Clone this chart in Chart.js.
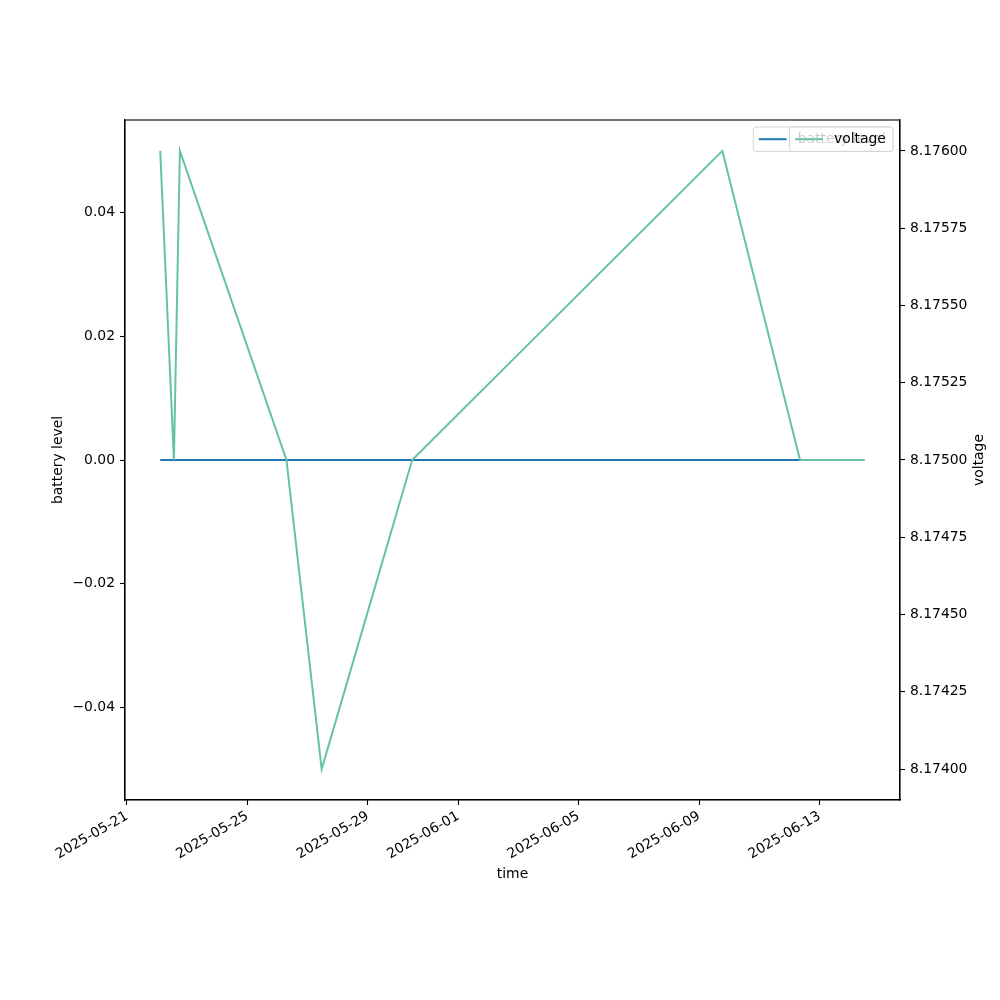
<!DOCTYPE html>
<html>
<head>
<meta charset="utf-8">
<script src="https://cdn.jsdelivr.net/npm/chart.js@4/dist/chart.umd.min.js"></script>
<style>
  html, body { margin: 0; padding: 0; background: #fff; }
</style>
</head>
<body>
<canvas id="chart" width="1000" height="1000"></canvas>
<script>
// data (UTC)
const times = ['2025-05-22T02:30', '2025-05-22T13:24', '2025-05-22T18:10', '2025-05-26T07:05',
               '2025-05-27T11:10', '2025-05-30T11:17', '2025-06-09T18:29', '2025-06-12T08:24',
               '2025-06-14T12:00'];
const voltage = [8.176, 8.175, 8.176, 8.175, 8.174, 8.175, 8.176, 8.175, 8.175];
const batteryTimes = times.slice(0, 8);
const batteryLevel = [0, 0, 0, 0, 0, 0, 0, 0];

const dateTicks = ['2025-05-21', '2025-05-25', '2025-05-29', '2025-06-01', '2025-06-05', '2025-06-09', '2025-06-13'];
const leftTicks = [-0.04, -0.02, 0, 0.02, 0.04];
const rightTicks = [8.174, 8.17425, 8.1745, 8.17475, 8.175, 8.17525, 8.1755, 8.17575, 8.176];

const toMs = s => Date.parse(s.length > 10 ? s + ':00Z' : s + 'T00:00:00Z');
const FONT = 13.9;

Chart.defaults.font.family = '"DejaVu Sans"';
Chart.defaults.font.size = FONT;
Chart.defaults.color = '#000';

// x limits with matplotlib style 5% margin
const tAll = times.map(toMs);
const tMin = Math.min(...tAll), tMax = Math.max(...tAll);
const xPad = (tMax - tMin) * 0.05;

const minus = s => s.replace('-', '\u2212');

const axisGrid = { drawOnChartArea: false, drawTicks: true, tickLength: 5, color: '#000', tickWidth: 1.1 };
const axisBorder = { display: true, color: '#000', width: 1.1 };

function drawLegend(ctx, right, top, ds) {
  ctx.font = FONT + 'px "DejaVu Sans"';
  const pad = 5.6, handle = 27.8, gap = 11.1, h = 24.4;
  const tw = ctx.measureText(ds.label).width;
  const w = pad + handle + gap + tw + pad + 1.5;
  const left = right - w;
  ctx.beginPath();
  ctx.roundRect(left, top, w, h, 3);
  ctx.fillStyle = 'rgba(255,255,255,0.8)';
  ctx.fill();
  ctx.strokeStyle = 'rgba(204,204,204,0.8)';
  ctx.lineWidth = 1;
  ctx.stroke();
  const cy = top + h / 2;
  ctx.beginPath();
  ctx.moveTo(left + pad, cy);
  ctx.lineTo(left + pad + handle, cy);
  ctx.strokeStyle = ds.borderColor;
  ctx.lineWidth = 2;
  ctx.stroke();
  ctx.fillStyle = '#000';
  ctx.textAlign = 'left';
  ctx.textBaseline = 'middle';
  ctx.fillText(ds.label, left + pad + handle + gap, cy);
}

const extras = {
  id: 'extras',
  afterDraw(chart) {
    const { ctx, chartArea: a } = chart;
    ctx.save();
    ctx.strokeStyle = '#000';
    ctx.lineWidth = 1.1;
    ctx.strokeRect(a.left, a.top, a.right - a.left, a.bottom - a.top);

    // right axis title, reading bottom to top
    const rs = chart.scales.yRight;
    ctx.save();
    ctx.font = FONT + 'px "DejaVu Sans"';
    ctx.fillStyle = '#000';
    ctx.translate(rs.right - 21, (a.top + a.bottom) / 2);
    ctx.rotate(-Math.PI / 2);
    ctx.textAlign = 'center';
    ctx.textBaseline = 'middle';
    ctx.fillText(rs.options.title.text, 0, 0);
    ctx.restore();

    // two legends, voltage drawn over battery level
    const ds = chart.data.datasets;
    drawLegend(ctx, a.right - 7, a.top + 7, ds[1]);
    drawLegend(ctx, a.right - 7, a.top + 7, ds[0]);
    ctx.restore();
  }
};

new Chart(document.getElementById('chart'), {
  type: 'line',
  data: {
    datasets: [
      {
        label: 'voltage',
        data: times.map((t, i) => ({ x: toMs(t), y: voltage[i] })),
        borderColor: '#66c2a5',
        borderWidth: 2,
        pointRadius: 0,
        yAxisID: 'yRight'
      },
      {
        label: 'battery level',
        data: batteryTimes.map((t, i) => ({ x: toMs(t), y: batteryLevel[i] })),
        borderColor: '#1f77b4',
        borderWidth: 2,
        pointRadius: 0,
        yAxisID: 'yLeft'
      }
    ]
  },
  options: {
    responsive: false,
    animation: false,
    devicePixelRatio: 1,
    layout: { padding: { left: 50, right: 0, top: 120, bottom: 117 } },
    plugins: { legend: { display: false }, tooltip: { enabled: false } },
    scales: {
      x: {
        type: 'linear',
        min: tMin - xPad,
        max: tMax + xPad,
        grid: axisGrid,
        border: axisBorder,
        afterBuildTicks: s => { s.ticks = dateTicks.map(d => ({ value: toMs(d) })); },
        afterFit: s => { s.height = 83; },
        ticks: {
          minRotation: 30,
          maxRotation: 30,
          padding: 3,
          autoSkip: false,
          callback: v => new Date(v).toISOString().slice(0, 10)
        },
        title: { display: true, text: 'time', padding: 0 }
      },
      yLeft: {
        position: 'left',
        min: -0.055,
        max: 0.055,
        grid: axisGrid,
        border: axisBorder,
        afterBuildTicks: s => { s.ticks = leftTicks.map(v => ({ value: v })); },
        afterFit: s => { s.width = 75; },
        ticks: { padding: 5, callback: v => minus(v.toFixed(2)) },
        title: { display: true, text: 'battery level', padding: 0 }
      },
      yRight: {
        position: 'right',
        min: 8.1739,
        max: 8.1761,
        grid: axisGrid,
        border: axisBorder,
        afterBuildTicks: s => { s.ticks = rightTicks.map(v => ({ value: v })); },
        afterFit: s => { s.width = 100; },
        ticks: { padding: 5, callback: v => v.toFixed(5) },
        title: { display: false, text: 'voltage' }
      }
    }
  },
  plugins: [extras]
});
</script>
</body>
</html>
